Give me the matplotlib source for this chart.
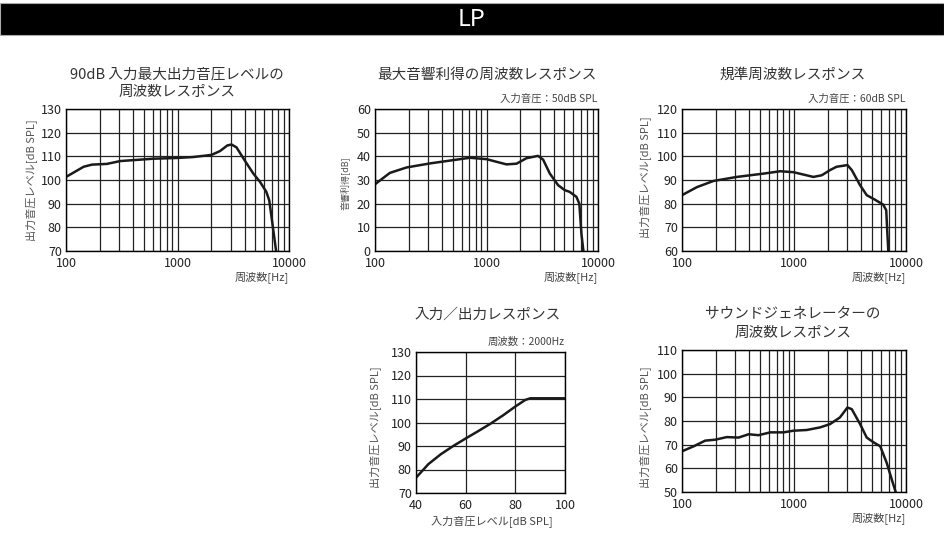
import numpy as np
import matplotlib
matplotlib.use("Agg")
import matplotlib.pyplot as plt
from matplotlib.ticker import FixedLocator, NullFormatter, FuncFormatter, LogLocator
from matplotlib.patches import Rectangle

plt.rcParams['font.family'] = ['Noto Sans CJK JP', 'DejaVu Sans']

# 90dB 入力最大出力音圧レベル
f1 = [100, 144, 171, 233, 306, 608, 984, 1380, 2017, 2400, 2800, 3050, 3380, 4170, 4790, 5500, 6260, 6650, 7100, 7660]
y1 = [101.3, 105.6, 106.5, 106.8, 108.0, 109.0, 109.3, 109.7, 110.6, 112.2, 114.6, 115.0, 113.8, 107.0, 102.7, 99.2, 95.0, 91.4, 81.6, 70.0]

# 最大音響利得
f2 = [100, 136, 192, 310, 503, 710, 1000, 1510, 1860, 2280, 2900, 3220, 3700, 4390, 5040, 5560, 6400, 6800, 7100, 7400]
y2 = [28.2, 33.0, 35.3, 37.0, 38.4, 39.4, 38.8, 36.6, 36.9, 39.2, 40.2, 38.6, 32.7, 27.8, 25.7, 25.0, 22.9, 20.0, 7.3, 0.0]

# 規準周波数レスポンス
f3 = [100, 136, 191, 309, 535, 753, 990, 1490, 1770, 2100, 2400, 3000, 3280, 3890, 4460, 5270, 6260, 6660, 6820, 6950]
y3 = [83.6, 87.0, 89.6, 91.3, 92.7, 93.7, 93.3, 91.3, 92.0, 94.2, 95.6, 96.3, 94.2, 87.8, 83.6, 81.7, 79.6, 77.2, 67.3, 60.0]

# 入力／出力 (2000Hz)
in4 = [40, 45, 50, 55, 60, 65, 70, 75, 80, 84, 86, 90, 100]
out4 = [76.5, 82.3, 86.5, 90.0, 93.2, 96.3, 99.5, 103.0, 106.8, 109.6, 110.3, 110.3, 110.3]

# サウンドジェネレーター
f5 = [100, 127, 161, 198, 251, 320, 393, 482, 614, 806, 990, 1300, 1710, 2100, 2570, 3000, 3280, 3890, 4460, 5130, 5890, 6740, 7470, 8090]
y5 = [67.2, 69.3, 71.7, 72.1, 73.2, 73.0, 74.4, 74.0, 75.2, 75.2, 75.9, 76.2, 77.3, 78.7, 81.5, 85.7, 85.0, 78.7, 73.0, 71.0, 69.3, 62.2, 55.2, 50.0]

W, H = 944, 535
fig = plt.figure(figsize=(W / 100, H / 100), dpi=100)

# 上部の黒帯
fig.patches.append(Rectangle((0, 1 - 35 / H), 1, 32 / H, transform=fig.transFigure,
                             facecolor='black', edgecolor='#aaaaaa', linewidth=0.8))
fig.text(0.5, 1 - 20 / H, 'LP', color='white', ha='center', va='center', fontsize=17)


def add_ax(x0, y0, x1, y1):
    return fig.add_axes([x0 / W, 1 - y1 / H, (x1 - x0) / W, (y1 - y0) / H])


def style(ax, ylim, ystep, logx=True):
    if logx:
        ax.set_xscale('log')
        ax.set_xlim(100, 10000)
        ax.xaxis.set_major_locator(FixedLocator([100, 1000, 10000]))
        ax.xaxis.set_minor_locator(LogLocator(base=10, subs=np.arange(2, 10)))
        ax.xaxis.set_major_formatter(FuncFormatter(lambda v, p: '%d' % v))
        ax.xaxis.set_minor_formatter(NullFormatter())
    ax.set_ylim(*ylim)
    ax.set_yticks(np.arange(ylim[0], ylim[1] + 1, ystep))
    ax.grid(True, which='both', color='#222222', linewidth=0.9)
    ax.tick_params(which='both', length=0, labelsize=9, pad=3, colors='#222222')
    ax.tick_params(axis='x', pad=4.5)
    for s in ax.spines.values():
        s.set_color('black')
        s.set_linewidth(1.0)


def px(x, y, s, **kw):
    fig.text(x / W, 1 - y / H, s, **kw)


lw = 1.8
lc = '#1a1a1a'

ax = add_ax(66, 109, 289, 251)
style(ax, (70, 130), 10)
ax.plot(f1, y1, color=lc, linewidth=lw, solid_joinstyle='round')
px(177, 75, '90dB 入力最大出力音圧レベルの', ha='center', va='center', fontsize=10.5, color='#333333')
px(177, 92, '周波数レスポンス', ha='center', va='center', fontsize=10.5, color='#333333')
px(289, 277, '周波数[Hz]', ha='right', va='center', fontsize=8, color='#444444')
px(31, 180, '出力音圧レベル[dB SPL]', ha='center', va='center', rotation=90, fontsize=8, color='#555555')

ax = add_ax(375, 109, 598, 251)
style(ax, (0, 60), 10)
ax.plot(f2, y2, color=lc, linewidth=lw, solid_joinstyle='round')
px(487, 75, '最大音響利得の周波数レスポンス', ha='center', va='center', fontsize=10.5, color='#333333')
px(597, 99, '入力音圧：50dB SPL', ha='right', va='center', fontsize=7.5, color='#444444')
px(598, 277, '周波数[Hz]', ha='right', va='center', fontsize=8, color='#444444')
px(345, 183, '音響利得[dB]', ha='center', va='center', rotation=90, fontsize=6.5, color='#555555')

ax = add_ax(682, 109, 906, 251)
style(ax, (60, 120), 10)
ax.plot(f3, y3, color=lc, linewidth=lw, solid_joinstyle='round')
px(793, 75, '規準周波数レスポンス', ha='center', va='center', fontsize=10.5, color='#333333')
px(906, 99, '入力音圧：60dB SPL', ha='right', va='center', fontsize=7.5, color='#444444')
px(906, 277, '周波数[Hz]', ha='right', va='center', fontsize=8, color='#444444')
px(645, 177, '出力音圧レベル[dB SPL]', ha='center', va='center', rotation=90, fontsize=8, color='#555555')

ax = add_ax(416, 352, 565, 493)
style(ax, (70, 130), 10, logx=False)
ax.set_xlim(40, 100)
ax.set_xticks([40, 60, 80, 100])
ax.plot(in4, out4, color=lc, linewidth=lw, solid_joinstyle='round')
px(488, 315, '入力／出力レスポンス', ha='center', va='center', fontsize=10.5, color='#333333')
px(565, 342, '周波数：2000Hz', ha='right', va='center', fontsize=7.5, color='#444444')
px(492, 521, '入力音圧レベル[dB SPL]', ha='center', va='center', fontsize=8, color='#444444')
px(375, 427, '出力音圧レベル[dB SPL]', ha='center', va='center', rotation=90, fontsize=8, color='#555555')

ax = add_ax(682, 350, 906, 492)
style(ax, (50, 110), 10)
ax.plot(f5, y5, color=lc, linewidth=lw, solid_joinstyle='round')
px(793, 314, 'サウンドジェネレーターの', ha='center', va='center', fontsize=10.5, color='#333333')
px(793, 333, '周波数レスポンス', ha='center', va='center', fontsize=10.5, color='#333333')
px(906, 518, '周波数[Hz]', ha='right', va='center', fontsize=8, color='#444444')
px(645, 427, '出力音圧レベル[dB SPL]', ha='center', va='center', rotation=90, fontsize=8, color='#555555')

fig.savefig('out.png', dpi=100)
